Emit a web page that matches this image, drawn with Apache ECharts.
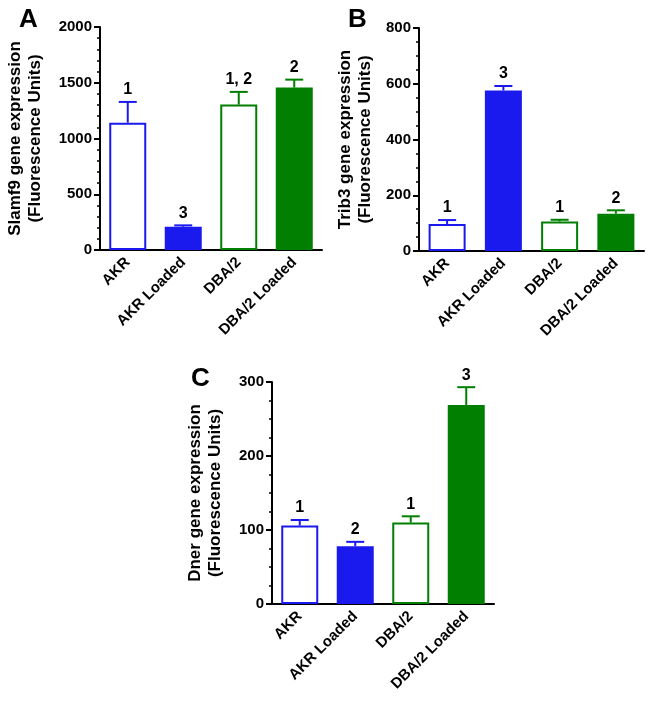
<!DOCTYPE html>
<html>
<head>
<meta charset="utf-8">
<script src="https://cdn.jsdelivr.net/npm/echarts@6/dist/echarts.min.js"></script>
<style>
html,body{margin:0;padding:0;background:#fff;}
#chart{width:653px;height:713px;}
</style>
</head>
<body>
<div id="chart"></div>
<script>
const categories = ['AKR', 'AKR Loaded', 'DBA/2', 'DBA/2 Loaded'];

const slamf9Mean = [1142, 209, 1304, 1457];
const slamf9Upper = [1328, 221, 1418, 1528];
const slamf9Sig = ['1', '3', '1, 2', '2'];
const slamf9Ticks = [0, 500, 1000, 1500, 2000];

const trib3Mean = [97, 576, 106, 134];
const trib3Upper = [111, 592, 112, 146];
const trib3Sig = ['1', '3', '1', '2'];
const trib3Ticks = [0, 200, 400, 600, 800];

const dnerMean = [106, 78, 110, 269];
const dnerUpper = [113.5, 84, 118.5, 293];
const dnerSig = ['1', '2', '1', '3'];
const dnerTicks = [0, 100, 200, 300];

const barColors = ['#1a1aee', '#1a1aee', '#007f00', '#007f00'];
const barHollow = [true, false, true, false];

const FONT = 'Liberation Sans, Arial, sans-serif';

const panels = [
  {letter: 'A', name: 'Slamf9 gene expression\n(Fluorescence Units)', mean: slamf9Mean, upper: slamf9Upper, sig: slamf9Sig, ticks: slamf9Ticks, minor: 5, gap: 55,
   grid: {left: 100, top: 27, width: 222, height: 223}, letterPos: {left: 14, top: 2}},
  {letter: 'B', name: 'Trib3 gene expression\n(Fluorescence Units)', mean: trib3Mean, upper: trib3Upper, sig: trib3Sig, ticks: trib3Ticks, minor: 4, gap: 44,
   grid: {left: 419, top: 28, width: 225, height: 223}, letterPos: {left: 343, top: 2}},
  {letter: 'C', name: 'Dner gene expression\n(Fluorescence Units)', mean: dnerMean, upper: dnerUpper, sig: dnerSig, ticks: dnerTicks, minor: 4, gap: 47,
   grid: {left: 272, top: 382, width: 222, height: 222}, letterPos: {left: 186, top: 361}}
];

const option = {
  backgroundColor: '#fff',
  animation: false,
  title: [], grid: [], xAxis: [], yAxis: [], series: []
};

panels.forEach((p, gi) => {
  option.title.push({text: p.letter, left: p.letterPos.left, top: p.letterPos.top,
    textStyle: {fontFamily: FONT, fontWeight: 'bold', fontSize: 26, color: '#000'}});
  option.grid.push(Object.assign({containLabel: false}, p.grid));
  option.xAxis.push({
    type: 'category', gridIndex: gi, data: categories,
    axisLine: {lineStyle: {color: '#000', width: 2}},
    axisTick: {alignWithLabel: true, length: 6, lineStyle: {color: '#000', width: 2}},
    axisLabel: {interval: 0, rotate: 45, margin: 10, color: '#000', fontFamily: FONT, fontWeight: 'bold', fontSize: 15}
  });
  const t = p.ticks;
  option.yAxis.push({
    type: 'value', gridIndex: gi, min: t[0], max: t[t.length - 1], interval: t[1] - t[0],
    name: p.name, nameLocation: 'middle', nameRotate: 90, nameGap: p.gap,
    nameTextStyle: {fontFamily: FONT, fontWeight: 'bold', fontSize: 17, color: '#000', lineHeight: 20},
    axisLine: {show: true, lineStyle: {color: '#000', width: 2}},
    axisTick: {show: true, length: 6, lineStyle: {color: '#000', width: 2}},
    minorTick: {show: true, splitNumber: p.minor, length: 3, lineStyle: {color: '#000', width: 1.5}},
    splitLine: {show: false},
    axisLabel: {margin: 8, color: '#000', fontFamily: FONT, fontWeight: 'bold', fontSize: 15,
      formatter: v => String(v)}
  });
  option.series.push({
    type: 'bar', xAxisIndex: gi, yAxisIndex: gi, barWidth: 37,
    data: p.mean.map((v, i) => ({
      value: v,
      itemStyle: barHollow[i]
        ? {color: '#fff', borderColor: barColors[i], borderWidth: 2}
        : {color: barColors[i], borderColor: barColors[i], borderWidth: 0}
    }))
  });
  const sig = p.sig;
  option.series.push({
    type: 'custom', xAxisIndex: gi, yAxisIndex: gi, clip: false, z: 5,
    encode: {x: 0, y: 1},
    data: p.mean.map((v, i) => [i, p.upper[i], v]),
    renderItem: function (params, api) {
      const i = params.dataIndex;
      const top = api.coord([api.value(0), api.value(1)]);
      const base = api.coord([api.value(0), api.value(2)]);
      const half = 9;
      const col = barColors[i];
      return {
        type: 'group',
        children: [
          {type: 'line', shape: {x1: top[0], y1: base[1], x2: top[0], y2: top[1]}, style: {stroke: col, lineWidth: 2}},
          {type: 'line', shape: {x1: top[0] - half, y1: top[1], x2: top[0] + half, y2: top[1]}, style: {stroke: col, lineWidth: 2}},
          {type: 'text', style: {text: sig[i], x: top[0], y: top[1] - 4, textAlign: 'center', textVerticalAlign: 'bottom',
            font: 'bold 16px ' + FONT, fill: '#000'}}
        ]
      };
    }
  });
});

const chart = echarts.init(document.getElementById('chart'), null, {renderer: 'canvas'});
chart.setOption(option);
</script>
</body>
</html>
